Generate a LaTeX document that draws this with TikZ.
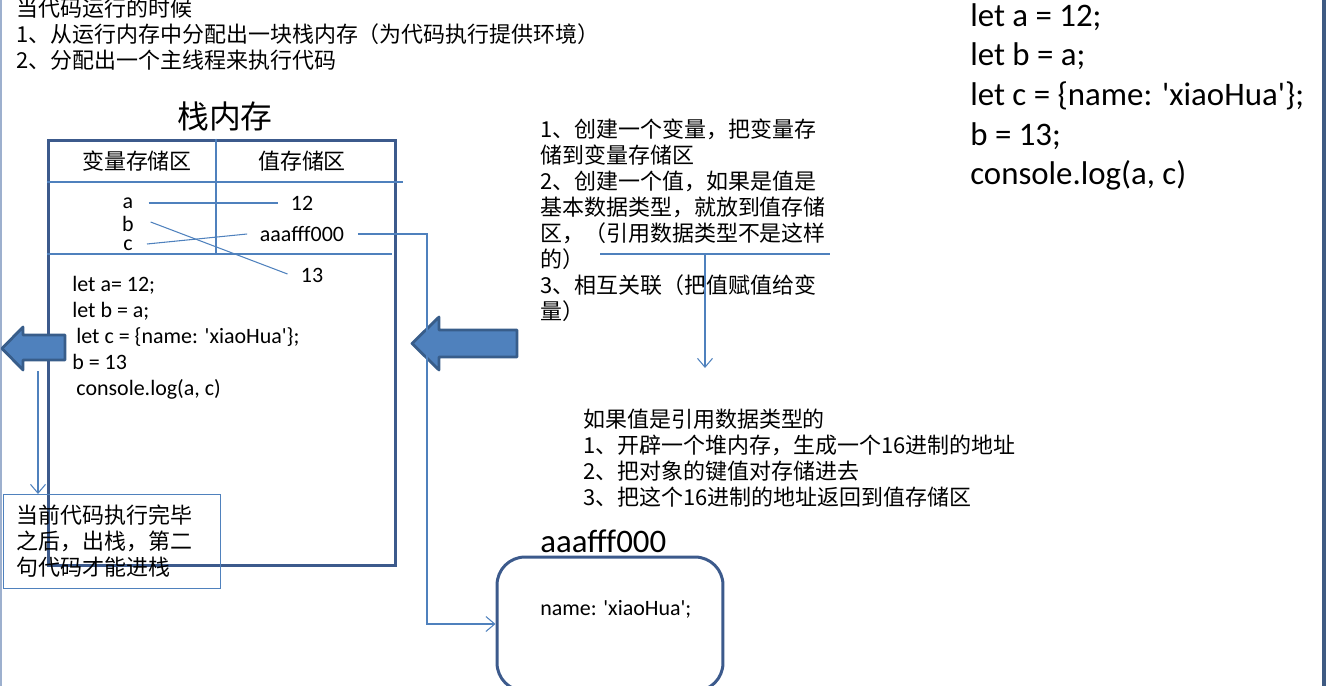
\documentclass[tikz,border=0pt]{standalone}
\usepackage{fontspec}
\setmainfont{Carlito}
\newfontfamily\cjk{Noto Sans CJK SC}
\usetikzlibrary{arrows.meta,positioning,calc}
\definecolor{stackblue}{HTML}{3C5A8C}
\definecolor{linkblue}{HTML}{4F81BD}
\definecolor{arrowfill}{HTML}{4F81BD}
\definecolor{arrowedge}{HTML}{385D8A}
\definecolor{edgelight}{HTML}{9DB0CE}
\definecolor{edgedark}{HTML}{3E5A82}
\newcommand{\sqt}{\textquotesingle}

\begin{document}
\begin{tikzpicture}[
    x=0.02cm, y=-0.02cm,
    >={Straight Barb[length=5pt,width=8.5pt]},
    frame/.style={draw=stackblue, line width=1.7pt},
    link/.style={draw=linkblue, line width=0.6pt},
    bigarrow/.style={draw=arrowedge, fill=arrowfill, line width=1.6pt, line join=round},
    cn/.style={font=\cjk\fontsize{12.5}{14.8}\selectfont, inner sep=0pt, align=left},
    code/.style={font=\fontsize{12.5}{14.8}\selectfont, inner sep=0pt, align=left},
    bigcode/.style={font=\fontsize{18.7}{22.6}\selectfont, inner sep=0pt, align=left}
]
\useasboundingbox (0,0) rectangle (1326,686);
\clip (0,0) rectangle (1326,686);

% window edges
\draw[edgelight, line width=0.8pt] (1,0) -- (1,686);
\draw[edgedark, line width=2.3pt] (1324,0) -- (1324,686);

\node[cn, anchor=west] (intro) at (16,34) {当代码运行的时候\\1、从运行内存中分配出一块栈内存（为代码执行提供环境）\\2、分配出一个主线程来执行代码};

% stack memory
\node[font=\cjk\fontsize{18.1}{21}\selectfont, inner sep=0pt] (stackTitle) at (225,116) {栈内存};
\coordinate (row1R) at (403,182);
\coordinate (row2R) at (392,254);
\coordinate (colBot) at (216,254);
\node[frame, minimum width=6.96cm, minimum height=8.52cm, inner sep=0pt] (stack) at (222,353) {};
\draw[link] (stack.west |- row1R) -- (row1R);
\draw[link] (stack.west |- row2R) -- (row2R);
\draw[link] (stack.north -| colBot) -- (colBot);

\node[cn] (varHead) at (137,161) {变量存储区};
\node[cn] (valHead) at (302,161) {值存储区};

\node[code] (varA) at (128,203) {a};
\node[code] (varB) at (128,224) {b};
\node[code] (varC) at (128,245) {c};
\node[code] (val12) at (302,203) {12};
\node[code] (valAddr) at (302,234) {aaafff000};
\node[code] (val13) at (312,275) {13};

\draw[link] ($(varA.east)+(15,0)$) -- ($(val12.west)+(-13,0)$);
\draw[link] ($(varB.east)+(16.5,-2)$) -- ($(val13.west)+(-13,-1)$);
\draw[link] ($(varC.east)+(14,-1)$) -- ($(valAddr.west)+(-12.5,0)$);

\node[code, anchor=west] (stackCode) at (72,337.5) {let a= 12;\\let b = a;\\\hspace*{2.3pt}let c = \{name: \sqt xiaoHua\sqt\};\\b = 13\\\hspace*{2.3pt}console.log(a, c)};

% push / pop
\draw[bigarrow] (65,335) -- (23,335) -- (23,327) -- (2,348.5) -- (23,370) -- (23,360) -- (65,360) -- cycle;
\draw[bigarrow] (517,330) -- (439,330) -- (439,317) -- (412,343.5) -- (439,370) -- (439,357) -- (517,357) -- cycle;

\node[cn, draw=linkblue, line width=0.6pt, text width=3.82cm, inner xsep=0.26cm, minimum height=1.88cm, anchor=north west] (note) at (3,494) {当前代码执行完毕\\之后，出栈，第二\\句代码才能进栈};
\coordinate (popFoot) at (38,371);
\draw[link,->] (popFoot) -- (popFoot |- note.north);

% steps
\node[cn, anchor=west] (steps) at (540,220.5) {1、创建一个变量，把变量存\\储到变量存储区\\2、创建一个值，如果是值是\\基本数据类型，就放到值存储\\区，（引用数据类型不是这样\\的）\\3、相互关联（把值赋值给变\\量）};
\coordinate (barL) at (600,254);
\coordinate (barR) at (830,254);
\coordinate (barTip) at (705,368);
\draw[link] (barL) -- (barR);
\draw[link,->] (barL -| barTip) -- (barTip);

\node[cn, anchor=west] (refSteps) at (583,458.5) {如果值是引用数据类型的\\1、开辟一个堆内存，生成一个16进制的地址\\2、把对象的键值对存储进去\\3、把这个16进制的地址返回到值存储区};

% heap
\node[frame, rounded corners=0.56cm, minimum width=4.52cm, minimum height=2.68cm, inner sep=0pt] (heap) at (610,624) {};
\node[bigcode, anchor=west] (heapAddr) at (540,541) {aaafff000};
\node[code, anchor=west] (heapBody) at (540,609) {name: \sqt xiaoHua\sqt;};
\coordinate (bend) at (427,624);
\draw[link,->] ($(valAddr.east)+(13.5,0)$) -| (bend) -- (heap.west);

\node[bigcode, anchor=west] (srcCode) at (970,97) {let a = 12;\\let b = a;\\let c = \{name: \sqt xiaoHua\sqt\};\\b = 13;\\console.log(a, c)};
\end{tikzpicture}
\end{document}
